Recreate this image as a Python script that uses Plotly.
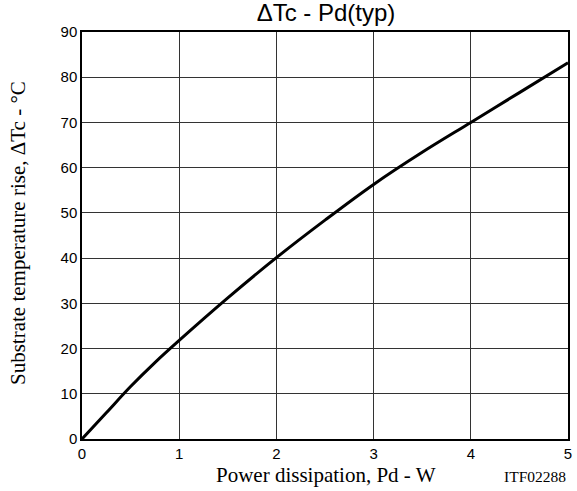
import plotly.graph_objects as go

# power dissipation (W) and substrate temperature rise (degC)
pd_w = [0, 0.25, 0.5, 0.75, 1, 1.5, 2, 2.5, 3, 3.5, 4, 4.5, 5]
dtc = [0, 5.8, 11.6, 16.9, 21.8, 31.2, 40.1, 48.4, 56.3, 63.4, 70, 76.6, 83.2]

x_ticks = [0, 1, 2, 3, 4, 5]
y_ticks = [0, 10, 20, 30, 40, 50, 60, 70, 80, 90]

fig = go.Figure(go.Scatter(
    x=pd_w, y=dtc, mode="lines", line=dict(color="black", width=3, shape="spline"),
    showlegend=False))

sans = "Liberation Sans, Arial, sans-serif"
serif = "Liberation Serif, Times New Roman, serif"

fig.update_layout(
    width=577, height=491,
    margin=dict(l=82, r=5, t=32, b=52),
    paper_bgcolor="white", plot_bgcolor="white",
    title=dict(text="ΔTc - Pd(typ)", x=0.565, xanchor="center", y=0.974, yanchor="middle",
               font=dict(family=sans, size=24, color="black")),
)
fig.update_xaxes(
    range=[0, 5], tickvals=x_ticks, showgrid=True, gridcolor="#333", gridwidth=1,
    showline=True, linecolor="black", linewidth=1.5, mirror=True, zeroline=False,
    ticks="", tickfont=dict(family=sans, size=15, color="black"))
fig.update_yaxes(
    range=[0, 90], tickvals=y_ticks, showgrid=True, gridcolor="#333", gridwidth=1,
    showline=True, linecolor="black", linewidth=1.5, mirror=True, zeroline=False,
    ticks="", tickfont=dict(family=sans, size=15, color="black"))

# axis titles and drawing number placed as annotations
fig.add_annotation(text="Power dissipation, Pd - W", xref="paper", yref="paper",
                   x=0.502, y=-0.089, xanchor="center", yanchor="middle", showarrow=False,
                   font=dict(family=serif, size=21, color="black"))
fig.add_annotation(text="Substrate temperature rise, ΔTc - °C", xref="paper", yref="paper",
                   x=-0.1306, y=0.505, xanchor="center", yanchor="middle", showarrow=False,
                   textangle=-90, font=dict(family=serif, size=21, color="black"))
fig.add_annotation(text="ITF02288", xref="paper", yref="paper", x=1.0, y=-0.091,
                   xanchor="right", yanchor="middle", showarrow=False,
                   font=dict(family=serif, size=15.5, color="black"))

# drop the default 8px body margin so the figure sits at the page corner
fig.write_html("out.html", config={"displayModeBar": False},
               post_script="document.body.style.margin='0';")
